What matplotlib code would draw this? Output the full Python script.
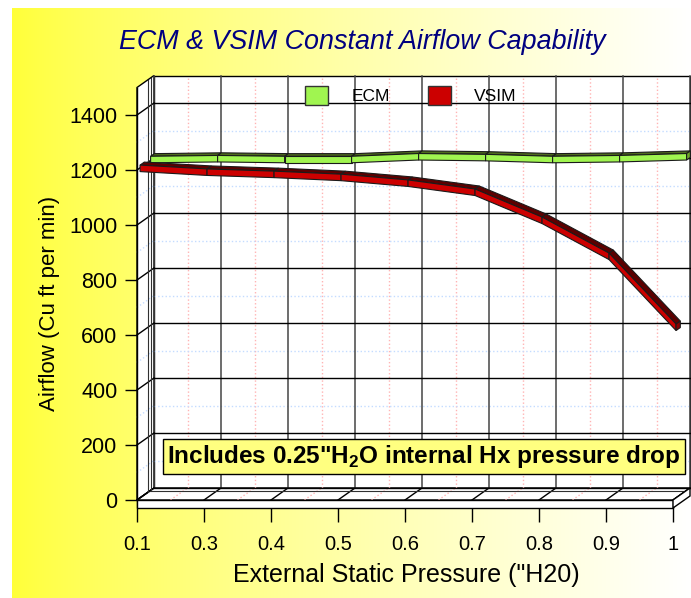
import matplotlib
matplotlib.use("Agg")  # headless
import matplotlib.pyplot as plt
import numpy as np
from matplotlib.lines import Line2D
from matplotlib.patches import Patch, Polygon
from matplotlib.transforms import IdentityTransform

# ---- data -------------------------------------------------------------
categories = ["0.1", "0.3", "0.4", "0.5", "0.6", "0.7", "0.8", "0.9", "1"]
ecm_cfm = [1215, 1218, 1215, 1215, 1225, 1222, 1215, 1218, 1225]
vsim_cfm = [1210, 1196, 1188, 1177, 1156, 1123, 1021, 890, 632]
y_ticks = list(range(0, 1401, 200))
y_minor = list(range(100, 1400, 200))
y_max = 1500

title = "ECM & VSIM Constant Airflow Capability"
x_title = 'External Static Pressure ("H20)'
y_title = "Airflow (Cu ft per min)"
note = 'Includes 0.25"H$_\\mathregular{2}$O internal Hx pressure drop'

plt.rcParams["font.family"] = ["Liberation Sans", "DejaVu Sans"]

W, H = 691, 598
fig = plt.figure(figsize=(W / 100, H / 100), dpi=100)

# background gradient (yellow -> white)
bg = fig.add_axes([0, 0, 1, 1])
bg.set_axis_off()
bg.set_xlim(0, W)
bg.set_ylim(H, 0)
t = np.linspace(0, 1, 400) ** 0.8
grad = np.ones((2, 400, 3))
grad[:, :, 2] = 0.22 + 0.78 * t
bg.imshow(grad, extent=[12, W, H, 8], aspect="auto", interpolation="bilinear")

# main axes = front plane
X0, X1, Y0, Y1 = 137, 673, 500, 87.5
ax = fig.add_axes([X0 / W, 1 - Y0 / H, (X1 - X0) / W, (Y0 - Y1) / H])
ax.set_xlim(0, len(categories) - 1)
ax.set_ylim(0, y_max)
ax.patch.set_visible(False)
for s in ax.spines.values():
    s.set_visible(False)
ax.set_yticks(y_ticks)
ax.set_xticks(range(len(categories)), categories)
ax.tick_params(axis="y", length=8.6, width=1, pad=5.5, labelsize=15.5)
ax.tick_params(axis="x", length=16, width=1, pad=9, labelsize=14.5)

DX, DY = 17.0, 12.0  # depth offset of back wall, px
ID = IdentityTransform()
n = len(categories) - 1


def P(i, v, z=0.0, drop=0.0):
    x, y = ax.transData.transform((i, v))
    return (x + DX * z, y + DY * z - drop)


def poly(pts, fc, ec="#1a1a1a", lw=0.8, z=2):
    ax.add_patch(Polygon(pts, closed=True, fc=fc, ec=ec, lw=lw,
                         transform=ID, clip_on=False, zorder=z))


def seg(a, b, color="black", lw=1.0, ls="-", z=1.5):
    ax.add_line(Line2D([a[0], b[0]], [a[1], b[1]], color=color, lw=lw, ls=ls,
                       transform=ID, clip_on=False, zorder=z))


# walls and floor
poly([P(0, 0, 1), P(n, 0, 1), P(n, y_max, 1), P(0, y_max, 1)], "white", "black", 1.0, 1)
poly([P(0, 0, 0), P(0, 0, 1), P(0, y_max, 1), P(0, y_max, 0)], "white", "black", 1.0, 1)
poly([P(0, 0, 0), P(n, 0, 0), P(n, 0, 1), P(0, 0, 1)], "white", "black", 1.0, 1)

pink, blue = "#FFB4B4", "#C4DCFF"
for k in range(n):
    seg(P(k + 0.5, 0, 1), P(k + 0.5, y_max, 1), pink, 1, ":", 1.2)
    seg(P(k + 0.5, 0, 0), P(k + 0.5, 0, 1), pink, 1, ":", 1.2)
for v in y_minor:
    seg(P(0, v, 1), P(n, v, 1), blue, 1, ":", 1.2)
    seg(P(0, v, 0), P(0, v, 1), blue, 1, ":", 1.2)
for k in range(n + 1):
    seg(P(k, 0, 1), P(k, y_max, 1), "#454545", 1.1)
    seg(P(k, 0, 0), P(k, 0, 1), "black", 1.0)
for v in y_ticks:
    seg(P(0, v, 1), P(n, v, 1), "black", 1.0)
    seg(P(0, v, 0), P(0, v, 1), "black", 1.0)
for zz in (0.64, 0.82):
    seg(P(0, 0, zz), P(0, y_max, zz), "#303030", 0.8)
seg(P(0, 0, 0.78), P(n, 0, 0.78), "#303030", 0.8)
seg(P(0, 0, 0), P(0, y_max, 0), "black", 1.0, z=2)

# floor slab
slab = 8
poly([P(0, 0, 0), P(n, 0, 0), P(n, 0, 0, slab), P(0, 0, 0, slab)], "white", "black", 1.0, 3.5)
poly([P(n, 0, 0), P(n, 0, 1), P(n, 0, 1, slab), P(n, 0, 0, slab)], "white", "black", 1.0, 3.5)


# 3D ribbons
def ribbon(vals, z0, w, thick, front, top, side, zo):
    for k in range(len(vals) - 1):
        a, b = vals[k], vals[k + 1]
        poly([P(k, a, z0), P(k + 1, b, z0), P(k + 1, b, z0 + w), P(k, a, z0 + w)], top, z=zo)
        poly([P(k, a, z0), P(k + 1, b, z0), P(k + 1, b, z0, thick), P(k, a, z0, thick)], front, z=zo)
    e = vals[-1]
    poly([P(n, e, z0), P(n, e, z0 + w), P(n, e, z0 + w, thick), P(n, e, z0, thick)], side, z=zo)


ribbon(ecm_cfm, 0.80, 0.22, 6.5, "#A0F550", "#4E6B1E", "#6FA82A", 3)
ribbon(vsim_cfm, 0.18, 0.25, 6.5, "#CC0000", "#5C0000", "#8B0000", 3.2)

# note box
ax.text(4.28, 158, note, ha="center", va="center", fontsize=17.5, fontweight="bold",
        zorder=4, bbox=dict(boxstyle="square,pad=0.18", fc="#FFFF80", ec="black", lw=1))

# legend
handles = [Patch(fc="#A0F550", ec="#333333", label="ECM"),
           Patch(fc="#CC0000", ec="#333333", label="VSIM")]
leg = ax.legend(handles=handles, loc="upper left", bbox_to_anchor=(305 / W, 1 - 86 / H),
                bbox_transform=fig.transFigure, frameon=False, ncol=2, fontsize=12.5,
                borderpad=0, borderaxespad=0, handlelength=1.32, handleheight=1.32,
                handletextpad=1.35, columnspacing=2.2)
leg.set_zorder(5)

# titles
fig.text(362 / W, 1 - 42 / H, title, ha="center", va="center", fontsize=19.4,
         style="italic", color="#000080")
fig.text(406 / W, 1 - 575 / H, x_title, ha="center", va="center", fontsize=18)
fig.text(50 / W, 1 - 303 / H, y_title, ha="center", va="center", fontsize=16,
         rotation=90)

fig.savefig("out.png", dpi=100)
